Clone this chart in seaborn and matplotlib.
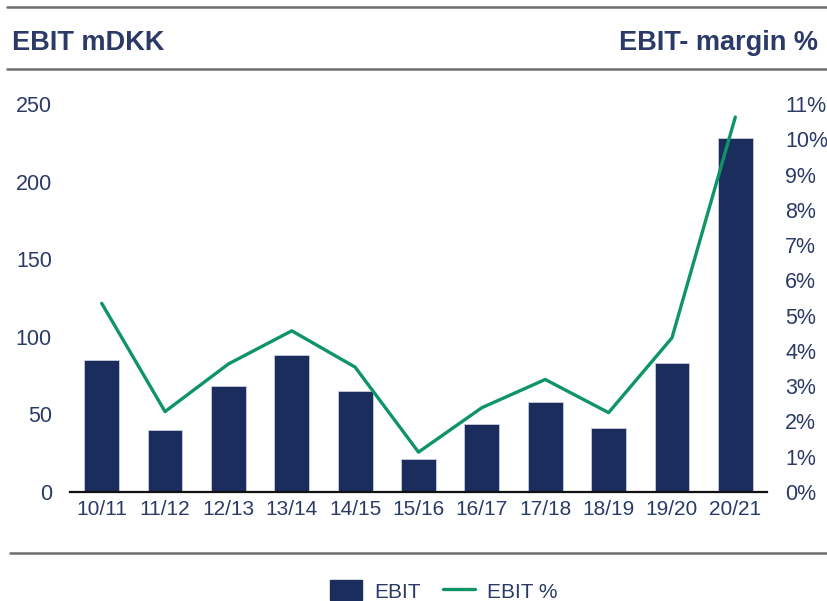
import matplotlib
matplotlib.use("Agg")
import matplotlib.pyplot as plt
from matplotlib.lines import Line2D
from matplotlib.patches import Patch
import seaborn as sns
import pandas as pd

periods = ["10/11", "11/12", "12/13", "13/14", "14/15", "15/16",
           "16/17", "17/18", "18/19", "19/20", "20/21"]
ebit = [85, 40, 68, 88, 65, 21, 44, 58, 41, 83, 228]
ebit_margin = [5.35, 2.28, 3.63, 4.57, 3.54, 1.13, 2.39, 3.19, 2.25, 4.37, 10.63]
left_ticks = [0, 50, 100, 150, 200, 250]
right_ticks = list(range(0, 12))

df = pd.DataFrame({"period": periods, "EBIT": ebit, "margin": ebit_margin})

sns.set_theme(style="white")
plt.rcParams["font.family"] = ["Liberation Sans", "DejaVu Sans"]

NAVY = "#1a2d5c"
TEXT = "#2b3a66"
GREEN = "#0f9467"
GRAY = "#6e6e6e"

fig = plt.figure(figsize=(8.27, 6.01), dpi=100)
ax = fig.add_axes([70 / 827, 1 - 492 / 601, 697 / 827, 388 / 601])

sns.barplot(data=df, x="period", y="EBIT", color=NAVY, width=0.55,
            edgecolor="#c8cde0", linewidth=0.6, saturation=1, ax=ax)
ax.set_ylim(0, 250)
ax.set_xlim(-0.5, 10.5)
ax.set_yticks(left_ticks)
ax.set_xlabel("")
ax.set_ylabel("")
ax.tick_params(axis="y", length=0, pad=13, labelsize=15.5, labelcolor=TEXT)
ax.tick_params(axis="x", length=0, pad=6, labelsize=15, labelcolor=TEXT)
for s in ["left", "right", "top"]:
    ax.spines[s].set_visible(False)
ax.spines["bottom"].set_color("#111111")
ax.spines["bottom"].set_linewidth(1.6)

ax2 = ax.twinx()
sns.lineplot(data=df, x="period", y="margin", color=GREEN, linewidth=2.4,
             sort=False, ax=ax2)
ax2.set_ylim(0, 11)
ax2.set_yticks(right_ticks)
ax2.set_yticklabels([f"{t}%" for t in right_ticks])
ax2.set_ylabel("")
ax2.tick_params(axis="y", length=0, pad=13, labelsize=15.5, labelcolor=TEXT)
for s in ["left", "right", "top", "bottom"]:
    ax2.spines[s].set_visible(False)
ax.set_xlim(-0.5, 10.5)

# header and rules
for y, x0 in [(7, 7), (69, 7), (553, 10)]:
    fig.add_artist(Line2D([x0 / 827, 1], [1 - y / 601, 1 - y / 601],
                          color=GRAY, linewidth=1.8, transform=fig.transFigure))
fig.text(12 / 827, 1 - 43 / 601, "EBIT mDKK", ha="left", va="center",
         fontsize=19.5, fontweight="bold", color=TEXT)
fig.text(818 / 827, 1 - 43 / 601, "EBIT- margin %", ha="right", va="center",
         fontsize=19.5, fontweight="bold", color=TEXT)

handles = [Patch(facecolor=NAVY, edgecolor=NAVY),
           Line2D([0], [0], color=GREEN, linewidth=2.4)]
fig.legend(handles, ["EBIT", "EBIT %"], loc="center", ncol=2,
           bbox_to_anchor=(444 / 827, 1 - 591 / 601), frameon=False,
           fontsize=15, handlelength=1.5, handleheight=1.1,
           handletextpad=0.6, columnspacing=1.1, labelcolor=TEXT)

fig.savefig("out.png", dpi=100)
